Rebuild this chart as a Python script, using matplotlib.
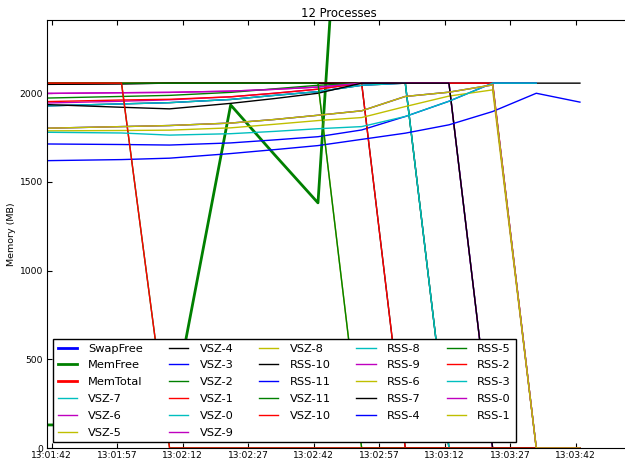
import datetime as dt

import numpy as np
import matplotlib
matplotlib.use("Agg")
import matplotlib.pyplot as plt
import matplotlib.dates as mdates

# sample times (HH:MM:SS), one row of memory stats per sample
stamps = ["13:01:41", "13:01:58", "13:02:09", "13:02:23", "13:02:33", "13:02:43",
          "13:02:53", "13:03:03", "13:03:13", "13:03:23", "13:03:33", "13:03:43"]

# system stats (MB); SwapFree / MemTotal sit above the visible range
swap_free = [8191, 8191, 8191, 8191, 8191, 8191, 8191, 8191, 8191, 8191, 8191, 8191]
mem_free = [130, 130, 130, 1934, 1655, 1382, 5160, 5310, 5480, 5620, 5770, 5900]
mem_total = [7983, 7983, 7983, 7983, 7983, 7983, 7983, 7983, 7983, 7983, 7983, 7983]

# per-process VSZ / RSS (MB)
vsz_0 = [1803, 1812, 1818, 1832, 1852, 1876, 1901, 1982, 2006, 2047, 0, 0]
vsz_1 = [2057, 2057, 2057, 2057, 2057, 2057, 2057, 2057, 2057, 2057, 0, 0]
vsz_2 = [2057, 2057, 0, 0, 0, 0, 0, 0, 0, 0, 0, 0]
vsz_3 = [1714, 1711, 1708, 1720, 1737, 1755, 1793, 1869, 1955, 2057, 2057, np.nan]
vsz_4 = [2050, 2053, 2057, 2057, 2057, 2057, 2057, 2057, 2057, 2057, 2057, 2057]
vsz_5 = [2057, 2057, 2057, 2057, 2057, 2057, 0, 0, 0, 0, 0, 0]
vsz_6 = [1945, 1955, 1963, 1980, 2000, 2023, 2057, 2057, 2057, 2057, 0, 0]
vsz_7 = [2057, 2057, 2057, 2057, 2057, 2057, 2057, 2057, 2057, 0, 0, 0]
vsz_8 = [1929, 1940, 1947, 1965, 1988, 2009, 2045, 2057, 0, 0, 0, 0]
vsz_9 = [1999, 2003, 2005, 2012, 2022, 2035, 2057, 2057, 2057, 0, 0, 0]
vsz_10 = [1953, 1962, 1966, 1980, 2000, 2023, 2057, 0, 0, 0, 0, 0]
vsz_11 = [1973, 1982, 1988, 2005, 2025, 2045, 2057, 2057, 0, 0, 0, 0]

rss_0 = [1803, 1812, 1818, 1832, 1852, 1876, 1901, 1982, 2006, 2047, 0, 0]
rss_1 = [1803, 1812, 1818, 1832, 1852, 1876, 1901, 1982, 2006, 2047, 0, 0]
rss_2 = [2057, 2057, 0, 0, 0, 0, 0, 0, 0, 0, 0, 0]
rss_3 = [1780, 1776, 1764, 1772, 1785, 1800, 1812, 1869, 1955, 2057, 2057, np.nan]
rss_4 = [1620, 1626, 1634, 1660, 1682, 1705, 1740, 1775, 1822, 1897, 2000, 1950]
rss_5 = [2057, 2057, 2057, 2057, 2057, 2057, 0, 0, 0, 0, 0, 0]
rss_6 = [1788, 1790, 1792, 1805, 1825, 1846, 1863, 1925, 1984, 2019, 0, 0]
rss_7 = [1936, 1921, 1912, 1943, 1970, 2000, 2057, 2057, 2057, 0, 0, 0]
rss_8 = [1929, 1940, 1947, 1965, 1988, 2009, 2045, 2057, 0, 0, 0, 0]
rss_9 = [1999, 2003, 2005, 2012, 2022, 2035, 2057, 2057, 2057, 0, 0, 0]
rss_10 = [2051, 2054, 2057, 2057, 2057, 2057, 2057, 0, 0, 0, 0, 0]
rss_11 = [1929, 1940, 1947, 1965, 1988, 2009, 2045, 2057, 0, 0, 0, 0]

# plotting order (same as the legend)
series = [
    ("SwapFree", swap_free), ("MemFree", mem_free), ("MemTotal", mem_total),
    ("VSZ-7", vsz_7), ("VSZ-6", vsz_6), ("VSZ-5", vsz_5), ("VSZ-4", vsz_4),
    ("VSZ-3", vsz_3), ("VSZ-2", vsz_2), ("VSZ-1", vsz_1), ("VSZ-0", vsz_0),
    ("VSZ-9", vsz_9), ("VSZ-8", vsz_8), ("RSS-10", rss_10), ("RSS-11", rss_11),
    ("VSZ-11", vsz_11), ("VSZ-10", vsz_10), ("RSS-8", rss_8), ("RSS-9", rss_9),
    ("RSS-6", rss_6), ("RSS-7", rss_7), ("RSS-4", rss_4), ("RSS-5", rss_5),
    ("RSS-2", rss_2), ("RSS-3", rss_3), ("RSS-0", rss_0), ("RSS-1", rss_1),
]
system_keys = ("SwapFree", "MemFree", "MemTotal")
cycle = ["b", "g", "r", "c", "m", "y", "k"]

day = dt.date(2013, 5, 14)
times = [dt.datetime.combine(day, dt.datetime.strptime(s, "%H:%M:%S").time()) for s in stamps]

fig = plt.figure(figsize=(6.25, 4.61), dpi=100)
ax = fig.add_axes([47.3 / 625, 13 / 461, 582.4 / 625, 428 / 461])

for i, (name, vals) in enumerate(series):
    lw = 2.0 if name in system_keys else 1.0
    ax.plot(times, vals, color=cycle[i % len(cycle)], lw=lw, label=name)

ax.set_xlim(times[0], times[0] + dt.timedelta(seconds=133.4))
ax.set_ylim(0, 2413)
ax.set_yticks([0, 500, 1000, 1500, 2000])

ax.xaxis.set_major_locator(mdates.SecondLocator(bysecond=[12, 27, 42, 57]))
ax.xaxis.set_major_formatter(mdates.DateFormatter("%H:%M:%S"))
ax.tick_params(direction="in", top=True, right=True, length=3.5, width=0.8,
               labelsize=6.6, pad=3)
ax.tick_params(axis="x", pad=2.2)

ax.set_ylabel("Memory (MB)", fontsize=6.8, labelpad=2.5)
ax.set_title("12 Processes", fontsize=8.4, pad=2.5)

leg = ax.legend(loc="lower left", ncol=5, fontsize=8.2, fancybox=False,
                framealpha=1.0, edgecolor="k", borderpad=0.4, labelspacing=0.6,
                handlelength=1.7, handletextpad=1.0, columnspacing=2.25,
                borderaxespad=0.5)
leg.get_frame().set_linewidth(1.0)

fig.savefig("out.png", dpi=100)
